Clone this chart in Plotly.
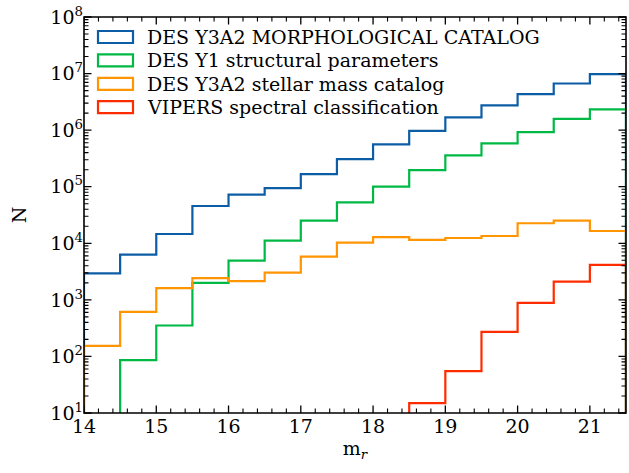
import math
import plotly.graph_objects as go

# ---- data ----
bin_edges = [14.0, 14.5, 15.0, 15.5, 16.0, 16.5, 17.0, 17.5, 18.0, 18.5,
             19.0, 19.5, 20.0, 20.5, 21.0, 21.5]

morph_counts = [2950, 6300, 14600, 45600, 72300, 94800, 167000, 308000, 560000,
                973000, 1680000, 2730000, 4320000, 6670000, 9750000]
y1_counts = [0, 86, 352, 1995, 4940, 11100, 25100, 53000, 100000, 197000,
             358000, 582000, 923000, 1580000, 2320000]
stellar_counts = [154, 614, 1607, 2415, 2138, 3034, 5810, 10260, 12800, 11450,
                  12400, 13460, 22600, 25100, 16500]
vipers_counts = [0, 0, 0, 0, 0, 0, 0, 0, 0, 15, 55, 272, 885, 2105, 4150]

series_names = ["DES Y3A2 MORPHOLOGICAL CATALOG", "DES Y1 structural parameters",
                "DES Y3A2 stellar mass catalog", "VIPERS spectral classification"]
series_colors = ["#0C5DA5", "#00B945", "#FF9500", "#FF2C00"]

x_ticks = [14, 15, 16, 17, 18, 19, 20, 21]
y_exponents = [1, 2, 3, 4, 5, 6, 7, 8]

FONT = "DejaVu Serif"
BASE = 0.01  # histogram baseline (below visible range)
X_RANGE = [14, 21.5]
Y_RANGE_LOG = [1, 8]


def step_xy(edges, counts):
    xs, ys = [edges[0]], [BASE]
    for i, c in enumerate(counts):
        v = c if c > 0 else BASE
        xs += [edges[i], edges[i + 1]]
        ys += [v, v]
    xs.append(edges[-1])
    ys.append(BASE)
    return xs, ys


fig = go.Figure()
for counts, name, col in zip([morph_counts, y1_counts, stellar_counts, vipers_counts],
                             series_names, series_colors):
    xs, ys = step_xy(bin_edges, counts)
    fig.add_trace(go.Scatter(x=xs, y=ys, mode="lines", name=name,
                             line=dict(color=col, width=2.2), showlegend=False,
                             hoverinfo="skip"))

# plot-area geometry (pixels)
L, R, T, B = 84, 626, 17, 413
PW, PH = R - L, B - T

# manual legend (hollow boxes like matplotlib step patches)
leg_top = 31
leg_step = 23.4
for i, (name, col) in enumerate(zip(series_names, series_colors)):
    y0 = leg_top + i * leg_step
    fig.add_shape(type="rect", xref="paper", yref="paper",
                  x0=(98 - L) / PW, x1=(133 - L) / PW,
                  y0=1 - (y0 - T) / PH, y1=1 - (y0 + 12 - T) / PH,
                  line=dict(color=col, width=2.2), fillcolor="rgba(0,0,0,0)")
    fig.add_annotation(xref="paper", yref="paper", x=(145 - L) / PW,
                       y=1 - (y0 + 6 - T) / PH, text=name, showarrow=False,
                       xanchor="left", yanchor="middle",
                       font=dict(family=FONT, size=19, color="black"))

# ---- frame and inward ticks on all four sides ----
MAJ, MIN = 7.5, 4.5
x_minor = [round(14 + 0.2 * k, 1) for k in range(0, 38)]
x_minor = [v for v in x_minor if X_RANGE[0] < v < X_RANGE[1] and abs(v - round(v)) > 1e-6]
y_minor = [math.log10(k * 10 ** d) for d in range(1, 8) for k in range(2, 10)]


def yfrac(lv):
    return (lv - Y_RANGE_LOG[0]) / (Y_RANGE_LOG[1] - Y_RANGE_LOG[0])


def xpath(vals, ln):
    h = ln / PH
    p = ""
    for v in vals:
        p += "M%s,0 L%s,%s " % (v, v, h)
        p += "M%s,1 L%s,%s " % (v, v, 1 - h)
    return p


def ypath(lvals, ln):
    w = ln / PW
    p = ""
    for lv in lvals:
        f = yfrac(lv)
        p += "M0,%s L%s,%s " % (f, w, f)
        p += "M1,%s L%s,%s " % (f, 1 - w, f)
    return p


tick_line = dict(color="black", width=1.3)
fig.add_shape(type="path", xref="x", yref="paper", path=xpath(x_ticks, MAJ), line=tick_line)
fig.add_shape(type="path", xref="x", yref="paper", path=xpath(x_minor, MIN), line=dict(color="black", width=1.1))
fig.add_shape(type="path", xref="paper", yref="paper", path=ypath(y_exponents, MAJ), line=tick_line)
fig.add_shape(type="path", xref="paper", yref="paper", path=ypath(y_minor, MIN), line=dict(color="black", width=1.1))
fig.add_shape(type="rect", xref="paper", yref="paper", x0=0, x1=1, y0=0, y1=1,
              line=dict(color="black", width=1.6), fillcolor="rgba(0,0,0,0)")

fig.update_layout(
    width=629, height=473,
    margin=dict(l=L, r=629 - R, t=T, b=473 - B),
    paper_bgcolor="white", plot_bgcolor="white",
    font=dict(family=FONT, size=19, color="black"),
    xaxis=dict(range=X_RANGE, tickmode="array", tickvals=x_ticks,
               ticks="", showline=False, showgrid=False, zeroline=False,
               title=dict(text="m<sub><i>r</i></sub>", font=dict(family=FONT, size=19), standoff=3),
               tickfont=dict(family=FONT, size=19)),
    yaxis=dict(type="log", range=Y_RANGE_LOG, tickmode="array",
               tickvals=[10 ** e for e in y_exponents],
               ticktext=["10<sup>%d</sup>" % e for e in y_exponents],
               ticks="", showline=False, showgrid=False, zeroline=False,
               title=dict(text="N", font=dict(family=FONT, size=19), standoff=18),
               tickfont=dict(family=FONT, size=19)),
)

fig.write_html("out.html", config={"displayModeBar": False},
               post_script="document.body.style.margin='0';")
